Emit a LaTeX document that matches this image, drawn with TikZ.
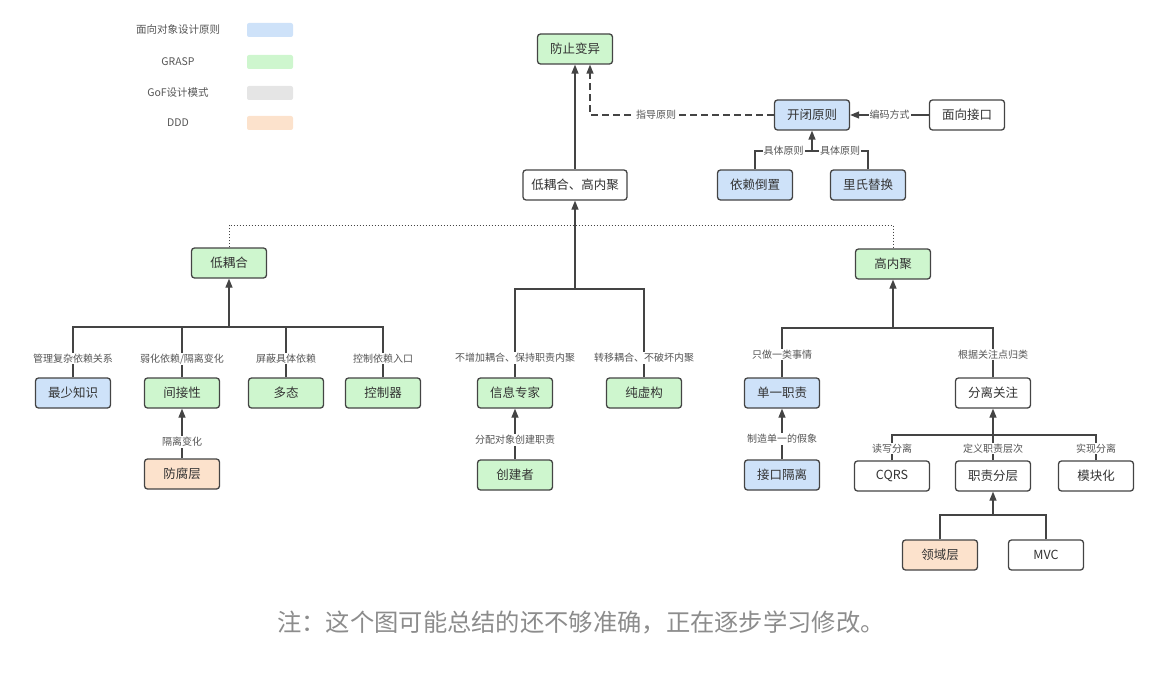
\documentclass[tikz,border=0pt]{standalone}
\usepackage{fontspec}
\setmainfont{Noto Sans CJK SC}
\usetikzlibrary{arrows.meta,calc}
\definecolor{cblue}{RGB}{206,226,249}
\definecolor{cgreen}{RGB}{206,246,206}
\definecolor{cgrey}{RGB}{229,229,229}
\definecolor{corange}{RGB}{252,226,204}
\definecolor{cline}{RGB}{68,68,68}
\definecolor{ctext}{RGB}{51,51,51}
\definecolor{clbl}{RGB}{85,85,85}
\definecolor{cnote}{RGB}{140,140,140}
\tikzset{
  box/.style={draw=cline, line width=1.3pt, rounded corners=3pt, minimum width=75pt, minimum height=30pt, inner sep=2pt, font=\fontsize{12.5}{14}\selectfont, text=ctext},
  bbox/.style={box, fill=cblue},
  gbox/.style={box, fill=cgreen},
  obox/.style={box, fill=corange},
  wbox/.style={box, fill=white},
  conn/.style={draw=cline, line width=1.3pt},
  arr/.style={conn, -{Triangle[length=9pt,width=7pt]}},
  lbl/.style={fill=white, inner sep=1pt, font=\fontsize{10}{11}\selectfont, text=clbl},
  legtxt/.style={font=\fontsize{10.5}{12}\selectfont, text=clbl},
  swatch/.style={rounded corners=2pt, minimum width=46pt, minimum height=14pt, inner sep=0pt},
}
\begin{document}
\begin{tikzpicture}[x=1pt,y=-1pt]
\useasboundingbox (0,0) rectangle (1162,674);
% legend
\node[legtxt] (l1) at (178,30) {面向对象设计原则};
\node[legtxt] (l2) at (178,62) {GRASP};
\node[legtxt] (l3) at (178,93) {GoF设计模式};
\node[legtxt] (l4) at (178,123) {DDD};
\node[swatch, fill=cblue] (s1) at (270,30) {};
\node[swatch, fill=cgreen] (s2) at (270,62) {};
\node[swatch, fill=cgrey] (s3) at (270,93) {};
\node[swatch, fill=corange] (s4) at (270,123) {};
% top
\node[gbox] (fz) at (575,49) {防止变异};
\node[bbox] (kb) at (812,115) {开闭原则};
\node[wbox] (mx) at (967,115) {面向接口};
\node[bbox] (yl) at (755,185) {依赖倒置};
\node[bbox] (ls) at (868,185) {里氏替换};
\node[wbox, minimum width=104pt] (lh) at (575,185) {低耦合、高内聚};
% second level
\node[gbox] (ld) at (229,263) {低耦合};
\node[gbox] (gn) at (893,264) {高内聚};
% low coupling children
\node[bbox] (zs) at (73,393) {最少知识};
\node[gbox] (jj) at (182,393) {间接性};
\node[gbox] (dt) at (286,393) {多态};
\node[gbox] (kz) at (383,393) {控制器};
\node[obox] (ff) at (182,474) {防腐层};
% middle children
\node[gbox] (xz) at (515,393) {信息专家};
\node[gbox] (cx) at (644,393) {纯虚构};
\node[gbox] (cj) at (515,475) {创建者};
% high cohesion children
\node[bbox] (dy) at (782,393) {单一职责};
\node[wbox] (fl) at (993,393) {分离关注};
\node[bbox] (jk) at (782,475) {接口隔离};
\node[wbox] (cq) at (892,476) {CQRS};
\node[wbox] (zc) at (993,476) {职责分层};
\node[wbox] (mk) at (1096,476) {模块化};
\node[obox] (ly) at (940,555) {领域层};
\node[wbox] (mv) at (1046,555) {MVC};
% junction coordinates
\coordinate (jd) at (590,115);
\coordinate (j1) at (812,151);
\coordinate (dot) at (893,225);
\coordinate (jm) at (575,289);
\coordinate (jl) at (229,327);
\coordinate (jr) at (893,328);
\coordinate (jf) at (993,435);
\coordinate (jc) at (993,515);
% top connectors
\draw[arr] (lh.north) -- (fz.south);
\draw[arr, dashed, dash pattern=on 7pt off 4pt] (kb.west) -- node[lbl, pos=0.64]{指导原则} (jd) -- (jd |- fz.south);
\draw[arr] (mx.west) -- node[lbl]{编码方式} (kb.east);
\draw[conn] (yl.north) |- node[lbl, pos=0.75]{具体原则} (j1);
\draw[conn] (ls.north) |- node[lbl, pos=0.75]{具体原则} (j1);
\draw[arr] (j1) -- (kb.south);
% dotted
\draw[conn, line width=1pt, dotted] (ld.north) |- (dot) -- (gn.north);
% middle tree
\draw[arr] (jm) -- (lh.south);
\draw[conn] (xz.north) -- node[lbl, pos=0.22]{不增加耦合、保持职责内聚} (xz.north |- jm) -- (jm);
\draw[conn] (cx.north) -- node[lbl, pos=0.22]{转移耦合、不破坏内聚} (cx.north |- jm) -- (jm);
\draw[arr] (cj.north) -- node[lbl, pos=0.38]{分配对象创建职责} (xz.south);
% left tree
\draw[arr] (jl) -- (ld.south);
\draw[conn] (zs.north) -- node[lbl, pos=0.37]{管理复杂依赖关系} (zs.north |- jl) -- (jl);
\draw[conn] (jj.north) -- node[lbl, pos=0.37]{弱化依赖/隔离变化} (jj.north |- jl) -- (jl);
\draw[conn] (dt.north) -- node[lbl, pos=0.37]{屏蔽具体依赖} (dt.north |- jl) -- (jl);
\draw[conn] (kz.north) -- node[lbl, pos=0.37]{控制依赖入口} (kz.north |- jl) -- (jl);
\draw[arr] (ff.north) -- node[lbl, pos=0.33]{隔离变化} (jj.south);
% right tree
\draw[arr] (jr) -- (gn.south);
\draw[conn] (dy.north) -- node[lbl, pos=0.46]{只做一类事情} (dy.north |- jr) -- (jr);
\draw[conn] (fl.north) -- node[lbl, pos=0.46]{根据关注点归类} (fl.north |- jr) -- (jr);
\draw[arr] (jk.north) -- node[lbl, pos=0.4]{制造单一的假象} (dy.south);
\draw[arr] (jf) -- (fl.south);
\draw[conn] (cq.north) -- node[lbl, pos=0.46]{读写分离} (cq.north |- jf) -- (jf);
\draw[conn] (zc.north) -- node[lbl, pos=0.46]{定义职责层次} (jf);
\draw[conn] (mk.north) -- node[lbl, pos=0.46]{实现分离} (mk.north |- jf) -- (jf);
\draw[arr] (jc) -- (zc.south);
\draw[conn] (ly.north) |- (jc);
\draw[conn] (mv.north) |- (jc);
% note
\node[font=\fontsize{24.3}{27}\selectfont, text=cnote] (note) at (581,622) {注：这个图可能总结的还不够准确，正在逐步学习修改。};
\end{tikzpicture}
\end{document}
